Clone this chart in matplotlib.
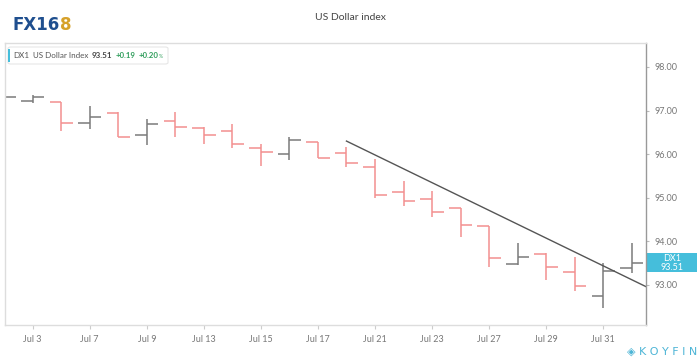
import matplotlib
matplotlib.use("Agg")
import matplotlib.pyplot as plt
from matplotlib.patches import Rectangle, FancyBboxPatch
from matplotlib.transforms import blended_transform_factory

plt.rcParams['font.family'] = ['Lato', 'DejaVu Sans']

# daily OHLC of DX1, Jul 2 - Aug 3
dates = ['Jul 2', 'Jul 3', 'Jul 6', 'Jul 7', 'Jul 8', 'Jul 9', 'Jul 10', 'Jul 13',
         'Jul 14', 'Jul 15', 'Jul 16', 'Jul 17', 'Jul 20', 'Jul 21', 'Jul 22',
         'Jul 23', 'Jul 24', 'Jul 27', 'Jul 28', 'Jul 29', 'Jul 30', 'Jul 31', 'Aug 3']
opens  = [97.30, 97.22, 97.20, 96.72, 96.94, 96.43, 96.76, 96.61, 96.53, 96.14, 96.00,
          96.29, 96.02, 95.71, 95.12, 94.97, 94.77, 94.35, 93.47, 93.71, 93.29, 92.75, 93.39]
highs  = [97.35, 97.36, 97.20, 97.11, 96.96, 96.80, 96.96, 96.63, 96.69, 96.23, 96.39,
          96.29, 96.16, 95.88, 95.39, 95.16, 94.77, 94.35, 93.96, 93.74, 93.63, 93.50, 93.97]
lows   = [97.25, 97.17, 96.52, 96.57, 96.39, 96.20, 96.40, 96.23, 96.15, 95.73, 95.87,
          95.91, 95.70, 94.99, 94.80, 94.55, 94.11, 93.42, 93.46, 93.11, 92.87, 92.47, 93.28]
closes = [97.30, 97.32, 96.71, 96.86, 96.39, 96.69, 96.63, 96.43, 96.23, 96.06, 96.33,
          95.91, 95.79, 95.06, 94.93, 94.67, 94.38, 93.61, 93.65, 93.42, 92.98, 93.31, 93.51]

tick_labels = ['Jul 3', 'Jul 7', 'Jul 9', 'Jul 13', 'Jul 15', 'Jul 17',
               'Jul 21', 'Jul 23', 'Jul 27', 'Jul 29', 'Jul 31']
y_ticks = [93, 94, 95, 96, 97, 98]

# hand drawn trend line (bar index, value)
trend_x = [12, 22.5]
trend_y = [96.30, 92.96]

last_price = 93.51
change = '+0.19'
change_pct = '+0.20'

fig = plt.figure(figsize=(7, 3.62), dpi=100)
ax = fig.add_axes([5/700, 1-325/362, 641/700, 282/362])

up_col = '#7a7a7a'
dn_col = '#f38f8f'
w = 0.41
for i in range(len(dates)):
    c = up_col if closes[i] >= opens[i] else dn_col
    ax.plot([i, i], [lows[i], highs[i]], color=c, lw=1.1, solid_capstyle='butt')
    ax.plot([i - w, i], [opens[i], opens[i]], color=c, lw=1.1, solid_capstyle='butt')
    ax.plot([i, i + w], [closes[i], closes[i]], color=c, lw=1.1, solid_capstyle='butt')

ax.plot(trend_x, trend_y, color='#555555', lw=1.0)

ax.set_xlim(0.03, 22.5)
ax.set_ylim(92.08, 98.55)

ax.set_xticks([dates.index(d) for d in tick_labels])
ax.set_xticklabels(tick_labels)
ax.yaxis.tick_right()
ax.set_yticks(y_ticks)
ax.set_yticklabels([f'{v:.2f}' for v in y_ticks])
ax.tick_params(axis='x', colors='#cccccc', labelcolor='#777777', labelsize=6.5,
               length=3, width=0.8, pad=4)
ax.tick_params(axis='y', colors='#bbbbbb', labelcolor='#777777', labelsize=6.5,
               length=2, width=0.8, pad=4)

for s in ['top', 'bottom', 'left']:
    ax.spines[s].set_color('#dddddd')
    ax.spines[s].set_linewidth(1.0)
ax.spines['right'].set_color('#999999')
ax.spines['right'].set_linewidth(1.0)

# last price tag on the right axis
tr = blended_transform_factory(ax.transAxes, ax.transData)
ax.add_patch(Rectangle((1.0, last_price - 0.22), 51/641, 0.44, transform=tr,
                       fc='#45bedb', ec='none', clip_on=False))
ax.text(1.0 + 26/641, last_price, f'DX1\n{last_price:.2f}', transform=tr,
        ha='center', va='center', color='white', fontsize=6.5, linespacing=1.0,
        clip_on=False)

# legend box
fig.patches.append(FancyBboxPatch((8/700, 1-64/362), 160/700, 17/362,
                                  boxstyle='round,pad=0,rounding_size=0.004',
                                  transform=fig.transFigure, fc='white', ec='#e6e6e6', lw=0.8))
fig.patches.append(Rectangle((8/700, 1-62/362), 2/700, 13/362, transform=fig.transFigure,
                             fc='#45bedb', ec='none'))
leg_y = 1 - 55/362
leg_items = [('DX1', 13, '#555555', 'normal', 5.8),
             ('US Dollar Index', 33, '#555555', 'normal', 5.8),
             (f'{last_price:.2f}', 92, '#444444', 'bold', 5.8),
             (change, 116, '#2e9d5a', 'bold', 5.6),
             (change_pct, 139, '#2e9d5a', 'bold', 5.6)]
for txt, x, col, fw, fs in leg_items:
    fig.text(x/700, leg_y, txt, fontsize=fs, color=col, va='center', fontweight=fw)
fig.text(159/700, 1-56.5/362, '%', fontsize=3.6, color='#2e9d5a', va='center')

fig.text(0.5, 1-18/362, 'US Dollar index', ha='center', va='center', fontsize=7.5, color='#444444')

# logos
fig.text(13/700, 1-25/362, 'FX16', fontsize=12, fontweight='heavy', color='#1f4f8f',
         va='center', family=['DejaVu Sans'])
fig.text(60/700, 1-25/362, '8', fontsize=12, fontweight='heavy', color='#d6a12a',
         va='center', family=['DejaVu Sans'])
fig.text(697/700, 1-352/362, '◈ K O Y F I N', fontsize=8, color='#4db5d6', ha='right',
         va='center', family=['DejaVu Sans'])

fig.savefig('out.png', dpi=100)
